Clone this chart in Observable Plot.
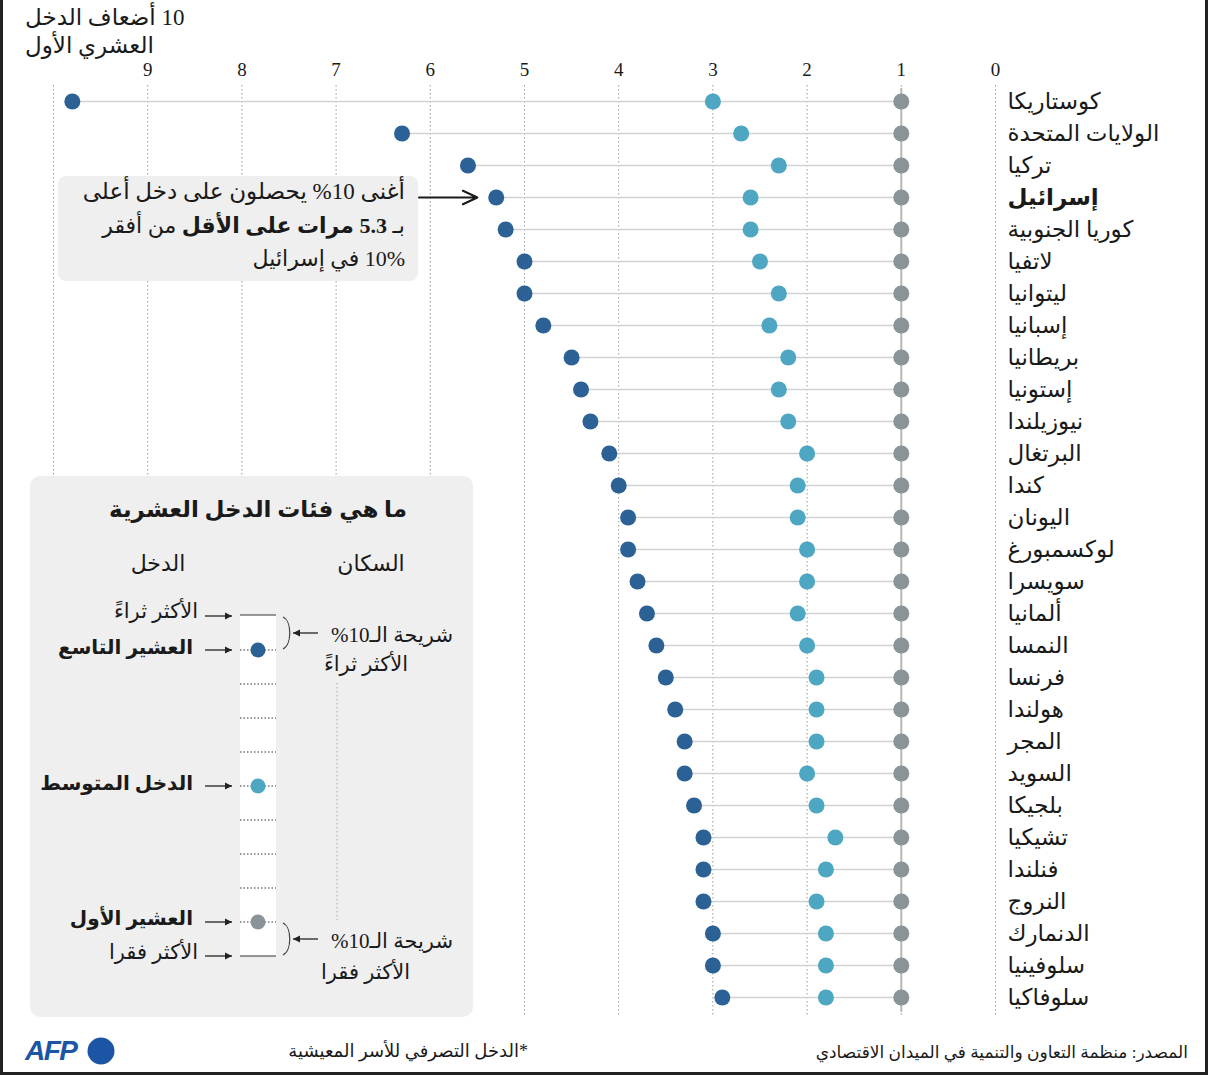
<!DOCTYPE html>
<html><head><meta charset="utf-8">
<script src="https://cdn.jsdelivr.net/npm/d3@7"></script>
<script src="https://cdn.jsdelivr.net/npm/@observablehq/plot@0.6"></script>
<style>
body{margin:0;background:#fff;}
#root{position:relative;width:1208px;height:1075px;overflow:hidden;font-family:"Liberation Serif","DejaVu Sans",serif;color:#1a1a1a;}
.t{position:absolute;white-space:nowrap;direction:rtl;}
#frame{position:absolute;left:0;top:0;width:1202px;height:1072px;border-left:3px solid #222;border-right:3px solid #222;border-bottom:3px solid #222;pointer-events:none;}
</style></head><body><div id="root"></div>
<script>
// ---- data ----
const countries = ["كوستاريكا","الولايات المتحدة","تركيا","إسرائيل","كوريا الجنوبية","لاتفيا","ليتوانيا","إسبانيا","بريطانيا","إستونيا","نيوزيلندا","البرتغال","كندا","اليونان","لوكسمبورغ","سويسرا","ألمانيا","النمسا","فرنسا","هولندا","المجر","السويد","بلجيكا","تشيكيا","فنلندا","النروج","الدنمارك","سلوفينيا","سلوفاكيا"];
const decile9 = [9.8,6.3,5.6,5.3,5.2,5.0,5.0,4.8,4.5,4.4,4.3,4.1,4.0,3.9,3.9,3.8,3.7,3.6,3.5,3.4,3.3,3.3,3.2,3.1,3.1,3.1,3.0,3.0,2.9];
const median = [3.0,2.7,2.3,2.6,2.6,2.5,2.3,2.4,2.2,2.3,2.2,2.0,2.1,2.1,2.0,2.0,2.1,2.0,1.9,1.9,1.9,2.0,1.9,1.7,1.8,1.9,1.8,1.8,1.8];
const decile1 = [1,1,1,1,1,1,1,1,1,1,1,1,1,1,1,1,1,1,1,1,1,1,1,1,1,1,1,1,1];
const tickLabels = [0,1,2,3,4,5,6,7,8,9];
const gridValues = [0,1,2,3,4,5,6,7,8,9,10];
const highlightCountry = "إسرائيل";
const highlightValue = 5.3;

const C_DARK = "#2b6195", C_MED = "#4da6c2", C_GREY = "#8a9498";
const rows = countries.map((c,i)=>({country:c, d9:decile9[i], med:median[i], d1:decile1[i]}));
const root = document.getElementById("root");
const W = 1208;

const chart = Plot.plot({
  width: W, height: 1030, margin: 0,
  style: {fontFamily: '"Liberation Serif","DejaVu Sans",serif', background: "transparent", overflow: "visible", color: "#1a1a1a"},
  x: {domain: [0, 10], range: [995, 53], axis: null},
  y: {type: "point", domain: countries, range: [100, 998], padding: 0, axis: null},
  marks: [
    Plot.ruleX(gridValues, {x: d => d, insetTop: 85, insetBottom: 14, stroke: "#9a9a9a", strokeWidth: 1, strokeDasharray: "1.5,2.5"}),
    Plot.ruleX([1], {x: d => d, insetTop: 88, insetBottom: 18, stroke: "#b8b8b8", strokeWidth: 2}),
    Plot.ruleX([{v: highlightValue, c: highlightCountry}], {x: "v", y2: "c", insetTop: 85, stroke: "#f2b400", strokeWidth: 1.5, strokeDasharray: "4,3"}),
    Plot.ruleY(rows, {y: "country", x1: "d9", x2: "d1", stroke: "#d2d2d2", strokeWidth: 1.6}),
    Plot.dot(rows, {x: "d1", y: "country", r: 8, fill: C_GREY}),
    Plot.dot(rows, {x: "med", y: "country", r: 8, fill: C_MED}),
    Plot.dot(rows, {x: "d9", y: "country", r: 8, fill: C_DARK}),
    Plot.text(tickLabels, {x: d => d, frameAnchor: "top", dy: 62, fontSize: 19, fill: "#1a1a1a", text: d => String(d)}),
    Plot.text(rows.filter(d => d.country !== highlightCountry), {x: () => 0, y: "country", text: "country", dx: 12, textAnchor: "start", fontSize: 23, fill: "#1a1a1a"}),
    Plot.text(rows.filter(d => d.country === highlightCountry), {x: () => 0, y: "country", text: "country", dx: 12, textAnchor: "start", fontSize: 23, fontWeight: "bold", fill: "#1a1a1a"}),
    Plot.arrow([{x1: 6.12, x2: 5.5, c: highlightCountry}], {x1: "x1", x2: "x2", y1: "c", y2: "c", stroke: "#1a1a1a", strokeWidth: 2, headLength: 12, headAngle: 50})
  ]
});
chart.style.position = "absolute"; chart.style.left = "0"; chart.style.top = "0";
root.appendChild(chart);

// ---- overlay svg for boxes / legend drawing ----
const ov = d3.select(root).append("svg").attr("width", W).attr("height", 1075)
  .style("position","absolute").style("left","0").style("top","0").style("pointer-events","none");

// annotation box
ov.append("rect").attr("x",58).attr("y",176).attr("width",360).attr("height",105).attr("rx",8).attr("fill","#efefef");
// legend box
ov.append("rect").attr("x",30).attr("y",476).attr("width",443).attr("height",541).attr("rx",10).attr("fill","#efefef");
ov.append("rect").attr("x",240).attr("y",615).attr("width",36).attr("height",341).attr("fill","#fff");
[615,956].forEach(y=>ov.append("line").attr("x1",240).attr("x2",276).attr("y1",y).attr("y2",y).attr("stroke","#333").attr("stroke-width",1.2));
[650,684,718,752,786,820,854,888,922].forEach(y=>ov.append("line").attr("x1",240).attr("x2",276).attr("y1",y).attr("y2",y).attr("stroke","#333").attr("stroke-width",1.2).attr("stroke-dasharray","1.5,2"));
ov.append("circle").attr("cx",258).attr("cy",650).attr("r",7.5).attr("fill",C_DARK);
ov.append("circle").attr("cx",258).attr("cy",786).attr("r",7.5).attr("fill",C_MED);
ov.append("circle").attr("cx",258).attr("cy",922).attr("r",7.5).attr("fill",C_GREY);
ov.append("line").attr("x1",337).attr("x2",337).attr("y1",683).attr("y2",920).attr("stroke","#aaa").attr("stroke-width",1).attr("stroke-dasharray","1.5,2.5");
// brackets
ov.append("path").attr("d","M283,617 C292,621 292,645 283,649").attr("fill","none").attr("stroke","#444").attr("stroke-width",1.2);
ov.append("path").attr("d","M283,923 C292,927 292,951 283,955").attr("fill","none").attr("stroke","#444").attr("stroke-width",1.2);
function arrowH(x1,x2,y){
  ov.append("line").attr("x1",x1).attr("x2",x2).attr("y1",y).attr("y2",y).attr("stroke","#222").attr("stroke-width",1.3);
  const d = x2>x1?1:-1;
  ov.append("path").attr("d",`M${x2},${y} L${x2-7*d},${y-3.5} L${x2-7*d},${y+3.5} Z`).attr("fill","#222");
}
arrowH(205,232,616); arrowH(205,232,650); arrowH(205,232,786); arrowH(205,232,922); arrowH(205,232,956);
arrowH(318,293,633); arrowH(318,293,939);

// ---- text helper ----
function T(html, {x, cy, size=20, bold=false, align="right", color="#1a1a1a", family}){
  const el = document.createElement("div");
  el.className = "t";
  el.innerHTML = html;
  const lh = Math.round(size*1.3);
  el.style.fontSize = size+"px";
  el.style.lineHeight = lh+"px";
  el.style.top = (cy - lh/2)+"px";
  el.style.color = color;
  if (bold) el.style.fontWeight = "bold";
  if (family) el.style.fontFamily = family;
  if (align === "right") el.style.right = (W - x)+"px";
  else if (align === "left") el.style.left = x+"px";
  else { el.style.left = x+"px"; el.style.transform = "translateX(-50%)"; }
  root.appendChild(el);
  return el;
}
// axis title
T("10 أضعاف الدخل", {x:25, cy:18, size:23, align:"left"});
T("العشري الأول", {x:25, cy:46, size:23, align:"left"});
// annotation
T("أغنى 10% يحصلون على دخل أعلى", {x:405, cy:192, size:23});
T("بـ <b>5.3 مرات على الأقل</b> من أفقر", {x:405, cy:225, size:22});
T("10% في إسرائيل", {x:405, cy:258, size:22});
// legend texts
T("ما هي فئات الدخل العشرية", {x:258, cy:510, size:23, bold:true, align:"center"});
T("الدخل", {x:158, cy:563, size:22, align:"center"});
T("السكان", {x:371, cy:563, size:22, align:"center"});
T("الأكثر ثراءً", {x:198, cy:611, size:21});
T("العشير التاسع", {x:193, cy:647, size:20, bold:true});
T("الدخل المتوسط", {x:193, cy:783, size:20, bold:true});
T("العشير الأول", {x:193, cy:918, size:20, bold:true});
T("الأكثر فقرا", {x:198, cy:952, size:21});
T("شريحة الـ10%", {x:453, cy:635, size:21});
T("الأكثر ثراءً", {x:408, cy:664, size:21});
T("شريحة الـ10%", {x:453, cy:941, size:21});
T("الأكثر فقرا", {x:410, cy:972, size:21});
// footer
T("المصدر: منظمة التعاون والتنمية في الميدان الاقتصادي", {x:1188, cy:1053, size:17});
T("*الدخل التصرفي للأسر المعيشية", {x:528, cy:1051, size:18});
const afp = T("AFP", {x:25, cy:1051, size:28, bold:true, align:"left", color:"#1d55a5", family:'"Liberation Sans",Arial,sans-serif'});
afp.style.fontStyle = "italic"; afp.style.direction = "ltr"; afp.style.letterSpacing = "-1.5px";
ov.append("circle").attr("cx",101).attr("cy",1051).attr("r",13.5).attr("fill","#1d55a5");

const fr = document.createElement("div"); fr.id = "frame"; root.appendChild(fr);
</script></body></html>
